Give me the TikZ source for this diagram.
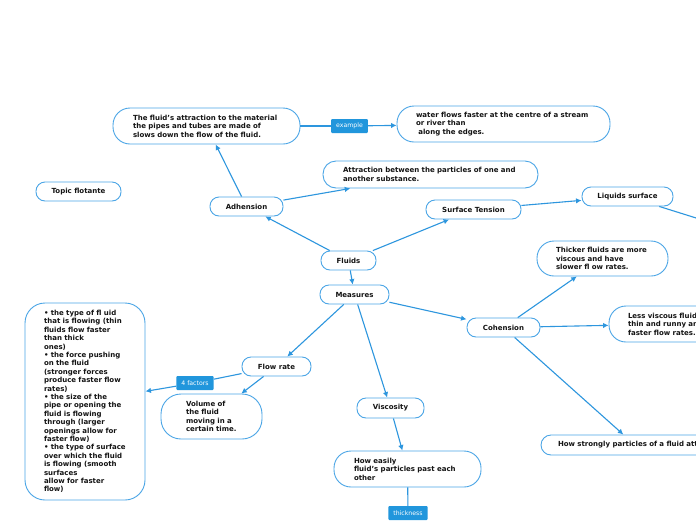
\documentclass[tikz,border=0pt]{standalone}
\usepackage{fontspec}
\setmainfont{DejaVu Sans}
\usetikzlibrary{arrows.meta}
\definecolor{bord}{RGB}{74,165,230}
\definecolor{lin}{RGB}{45,150,222}
\definecolor{lab}{RGB}{33,150,220}
\definecolor{txt}{RGB}{20,20,20}
\begin{document}
\begin{tikzpicture}[x=1pt,y=-1pt,
 box/.style={draw=bord,line width=0.9pt,fill=white,inner sep=0pt,text=txt,font=\fontsize{7}{8.5}\selectfont\bfseries},
 pill/.style={box,rounded corners=9pt,minimum height=19pt,align=center},
 big/.style={box,align=left},
 tag/.style={fill=lab,text=white,inner xsep=5pt,inner ysep=0pt,minimum height=14pt,rounded corners=1pt,font=\fontsize{6.2}{7}\selectfont},
 conn/.style={draw=lin,line width=1.1pt},
 arr/.style={conn,-{Latex[length=5.5pt,width=5.5pt]}}]
\clip (0,0) rectangle (696,520);
\fill[white] (0,0) rectangle (696,520);

% main boxes
\node[big,rounded corners=17pt,minimum width=187pt,minimum height=36pt,text width=147pt] (A) at (206.5,126)
 {\mbox{The fluid’s attraction to the material}\\\mbox{the pipes and tubes are made of}\\\mbox{slows down the flow of the fluid.}};
\node[big,rounded corners=17pt,minimum width=213pt,minimum height=36pt,text width=175pt] (B) at (503.5,124)
 {\mbox{water flows faster at the centre of a stream}\\\mbox{or river than}\\\mbox{\ along the edges.}};
\node[big,rounded corners=13pt,minimum width=215pt,minimum height=27pt,text width=175pt] (C) at (430.5,174.5)
 {\mbox{Attraction between the particles of one and}\\\mbox{another substance.}};

\node[pill,minimum width=73pt] (Ad) at (246.5,206.5) {Adhension};
\node[pill,minimum width=95pt] (ST) at (473.5,209.5) {Surface Tension};
\node[pill,minimum width=91pt] (LS) at (627.5,196.5) {Liquids surface};
\node[pill,minimum width=85pt] (TF) at (78.5,191.5) {Topic flotante};
\node[pill,minimum width=55pt] (Fl) at (348.5,260.5) {Fluids};
\node[pill,minimum width=69pt] (Me) at (354.5,294.5) {Measures};
\node[pill,minimum width=73pt] (Co) at (503.5,327.5) {Cohension};
\node[pill,minimum width=69pt] (FR) at (276.5,366.5) {Flow rate};
\node[pill,minimum width=67pt,minimum height=20pt] (Vi) at (390.5,408) {Viscosity};

\node[big,rounded corners=17pt,minimum width=131pt,minimum height=35pt,text width=93pt] (Th) at (602.5,258.5)
 {\mbox{Thicker fluids are more}\\\mbox{viscous and have}\\\mbox{slower fl ow rates.}};
\node[big,rounded corners=17pt,minimum width=130pt,minimum height=36pt,text width=92pt] (LV) at (674,324)
 {\mbox{Less viscous fluids are}\\\mbox{thin and runny and have}\\\mbox{faster flow rates.}};
\node[big,rounded corners=10pt,minimum width=188pt,minimum height=20pt,text width=154pt] (HS) at (635,445)
 {\mbox{How strongly particles of a fluid attract each other.}};
\node[big,rounded corners=20pt,minimum width=120pt,minimum height=197pt,text width=82pt,font=\fontsize{7}{8.4}\selectfont\bfseries] (Fa) at (85,401.5)
 {\mbox{• the type of fl uid}\\\mbox{that is flowing (thin}\\\mbox{fluids flow faster}\\\mbox{than thick}\\\mbox{ones)}\\
  \mbox{• the force pushing}\\\mbox{on the fluid}\\\mbox{(stronger forces}\\\mbox{produce faster flow}\\\mbox{rates)}\\
  \mbox{• the size of the}\\\mbox{pipe or opening the}\\\mbox{fluid is flowing}\\\mbox{through (larger}\\\mbox{openings allow for}\\\mbox{faster flow)}\\
  \mbox{• the type of surface}\\\mbox{over which the fluid}\\\mbox{is flowing (smooth}\\\mbox{surfaces}\\\mbox{allow for faster}\\\mbox{flow)}};
\node[big,rounded corners=20pt,minimum width=101pt,minimum height=45pt,text width=51pt] (Vo) at (211.5,416.5)
 {\mbox{Volume of}\\\mbox{the fluid}\\\mbox{moving in a}\\\mbox{certain time.}};
\node[big,rounded corners=17pt,minimum width=147pt,minimum height=36pt,text width=107pt] (HE) at (407.5,469)
 {\mbox{How easily}\\\mbox{fluid’s particles past each}\\\mbox{other}};

% tags
\node[tag] (ex) at (349.5,126) {example};
\node[tag] (f4) at (195,383) {4 factors};
\node[tag] (tk) at (408,513) {thickness};
\coordinate (lsout) at (760,238);

% connectors
\draw[arr] (Fl) -- (Ad);
\draw[arr] (Fl) -- (ST);
\draw[arr] (Fl) -- (Me);
\draw[arr] (Ad) -- (A);
\draw[arr] (Ad) -- (C);
\draw[conn] (A) -- (ex);
\draw[arr] (ex) -- (B);
\draw[arr] (ST) -- (LS);
\draw[conn] (LS) -- (lsout);
\draw[arr] (Me) -- (Co);
\draw[arr] (Me) -- (FR);
\draw[arr] (Me) -- (Vi);
\draw[arr] (Co) -- (Th);
\draw[arr] (Co) -- (LV);
\draw[arr] (Co) -- (HS);
\draw[conn] (FR) -- (f4);
\draw[arr] (f4) -- (Fa);
\draw[arr] (FR) -- (Vo);
\draw[arr] (Vi) -- (HE);
\draw[conn] (HE) -- (tk);
\end{tikzpicture}
\end{document}
